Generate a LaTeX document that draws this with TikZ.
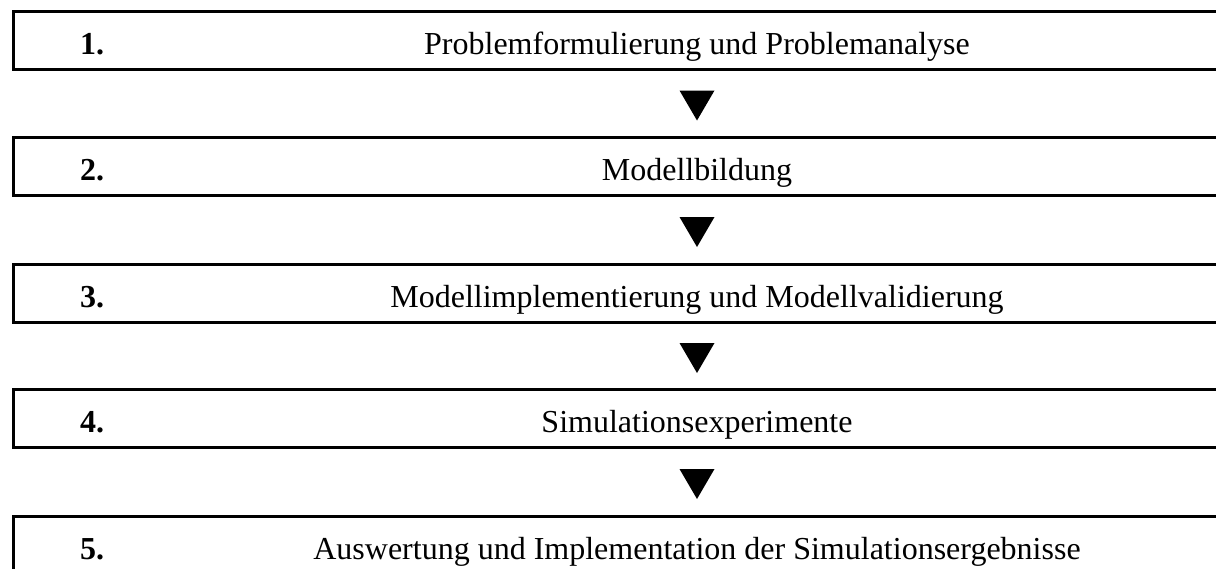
\documentclass[tikz,border=0pt]{standalone}
\usepackage{fontspec}
\setmainfont{Liberation Serif}
\usetikzlibrary{positioning, calc}

\begin{document}
\begin{tikzpicture}[x=0.5pt, y=-0.5pt,
    stage/.style={draw, line width=1.5pt, minimum width=620pt, minimum height=29pt, inner sep=0pt, anchor=north west},
    num/.style={anchor=base, font=\bfseries\fontsize{16}{19}\selectfont},
    title/.style={anchor=base, font=\fontsize{16}{19}\selectfont},
    tri/.style={fill=black}]
     \clip (0,0) rectangle (1216,568);
     % the five steps
     \node[stage] (s1) at (12,10) {};
     \node[stage] (s2) at (12,136) {};
     \node[stage] (s3) at (12,263) {};
     \node[stage] (s4) at (12,388) {};
     \node[stage] (s5) at (12,515) {};
     %
     \node[num] (n1) at (92,54) {1.};
     \node[num] (n2) at (92,180) {2.};
     \node[num] (n3) at (92,307) {3.};
     \node[num] (n4) at (92,432) {4.};
     \node[num] (n5) at (92,559) {5.};
     %
     \node[title] (t1) at (697,54) {Problemformulierung und Problemanalyse};
     \node[title] (t2) at (697,180) {Modellbildung};
     \node[title] (t3) at (697,307) {Modellimplementierung und Modellvalidierung};
     \node[title] (t4) at (697,432) {Simulationsexperimente};
     \node[title] (t5) at (697,559) {Auswertung und Implementation der Simulationsergebnisse};
     % arrows between the steps
     \coordinate (a1) at ($(t1 |- s1.south)!0.5!(t2 |- s2.north)$);
     \coordinate (a2) at ($(t2 |- s2.south)!0.5!(t3 |- s3.north)$);
     \coordinate (a3) at ($(t3 |- s3.south)!0.5!(t4 |- s4.north)$);
     \coordinate (a4) at ($(t4 |- s4.south)!0.5!(t5 |- s5.north)$);
     \fill[tri] ([shift={(-17.5,-13)}]a1) -- ([shift={(17.5,-13)}]a1) -- ([shift={(0,17)}]a1) -- cycle;
     \fill[tri] ([shift={(-17.5,-13)}]a2) -- ([shift={(17.5,-13)}]a2) -- ([shift={(0,17)}]a2) -- cycle;
     \fill[tri] ([shift={(-17.5,-13)}]a3) -- ([shift={(17.5,-13)}]a3) -- ([shift={(0,17)}]a3) -- cycle;
     \fill[tri] ([shift={(-17.5,-13)}]a4) -- ([shift={(17.5,-13)}]a4) -- ([shift={(0,17)}]a4) -- cycle;
\end{tikzpicture}
\end{document}
